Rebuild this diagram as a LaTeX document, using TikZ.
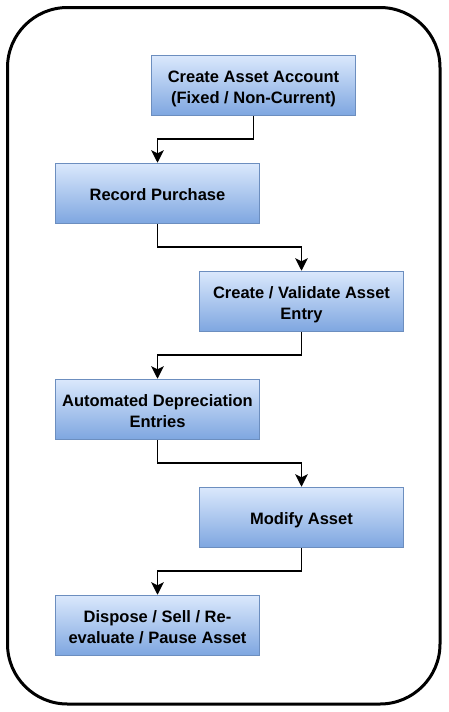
\documentclass[tikz,border=0pt]{standalone}
\usepackage{fontspec}
\setmainfont{Liberation Sans}
\usetikzlibrary{arrows.meta,positioning}
\definecolor{boxtop}{HTML}{DAE8FC}
\definecolor{boxbot}{HTML}{7EA6E0}
\definecolor{boxline}{HTML}{6C8EBF}
\newcommand{\boxtext}[1]{\raisebox{-3pt}[\height][\depth]{\begin{tabular}{@{}c@{}}#1\end{tabular}}}
\tikzset{
  stepbox/.style={draw=boxline, line width=1.5pt, top color=boxtop, bottom color=boxbot,
    minimum width=204pt, minimum height=60pt, align=center,
    font=\fontsize{16.5}{21.5}\selectfont\bfseries, inner sep=0pt},
  flow/.style={draw=black, line width=1.8pt, -{Stealth[width=12.5pt,length=12.5pt,inset=3pt]}},
}
\begin{document}
\begin{tikzpicture}[x=1pt,y=-1pt]
\useasboundingbox (0,0) rectangle (448,712);
\draw[line width=3pt, rounded corners=60pt] (7.5,7.5) rectangle (440,704);
\node[stepbox] (a) at (253.5,85.5) {\boxtext{Create Asset Account\\(Fixed / Non-Current)}};
\node[stepbox] (b) at (157.5,193.5) {\boxtext{Record Purchase}};
\node[stepbox] (c) at (301.5,301.5) {\boxtext{Create / Validate Asset\\Entry}};
\node[stepbox] (d) at (157.5,409.5) {\boxtext{Automated Depreciation\\Entries}};
\node[stepbox] (e) at (301.5,517.5) {\boxtext{Modify Asset}};
\node[stepbox] (f) at (157.5,625.5) {\boxtext{Dispose / Sell / Re-\\evaluate / Pause Asset}};
\draw[flow] (a.south) |- ++(0,23) -| (b.north);
\draw[flow] (b.south) |- ++(0,23) -| (c.north);
\draw[flow] (c.south) |- ++(0,23) -| (d.north);
\draw[flow] (d.south) |- ++(0,23) -| (e.north);
\draw[flow] (e.south) |- ++(0,23) -| (f.north);
\end{tikzpicture}
\end{document}
